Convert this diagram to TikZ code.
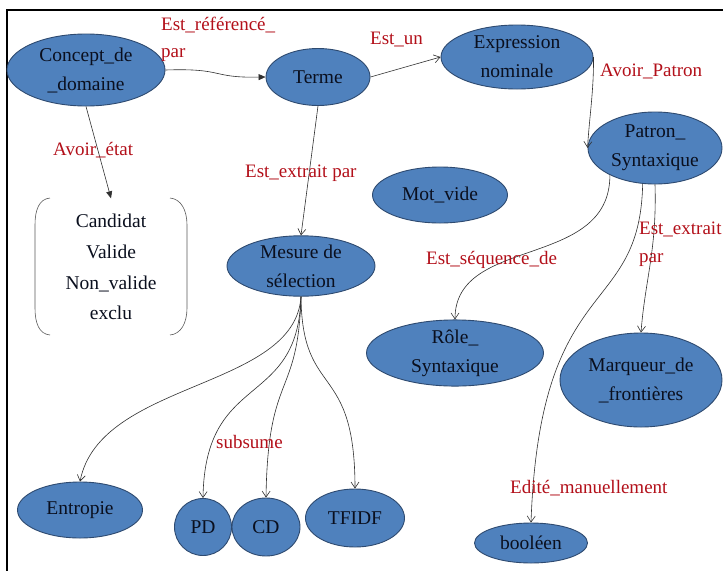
\documentclass[tikz,border=0pt]{standalone}
\usepackage{fontspec}
\setmainfont{Liberation Serif}
\usetikzlibrary{shapes.geometric,arrows.meta}
\definecolor{nodefill}{HTML}{4F81BD}
\definecolor{nodeborder}{HTML}{2E4A70}
\definecolor{relred}{HTML}{B3101A}
\definecolor{linecol}{HTML}{303030}
\definecolor{nodetext}{HTML}{0A0F1E}
\newcommand\dfont{\rmfamily\fontsize{19.5}{29}\selectfont}
\tikzset{
  ent/.style={ellipse, draw=nodeborder, fill=nodefill, line width=0.9pt, inner sep=0pt, align=center, font=\dfont, text=nodetext},
  rel/.style={text=relred, inner sep=0pt, anchor=west, font=\rmfamily\fontsize{19}{29}\selectfont},
  link/.style={draw=linecol, line width=0.6pt, -{Straight Barb[length=6pt,width=8pt]}},
  linkf/.style={draw=linecol, line width=0.6pt, -{Triangle[length=7pt,width=6pt]}},
  bracket/.style={draw=linecol!80, line width=0.6pt},
}
\begin{document}
\begin{tikzpicture}[x=1pt,y=-1pt]
\useasboundingbox (0,0) rectangle (723,571);
\fill[white] (0,0) rectangle (723,571);
% frame
\draw[line width=2pt, black] (723,10) -- (7,10) -- (7,571);

% entities
\node[ent, minimum width=158pt, minimum height=72pt] (concept) at (86,70) {Concept\_de\\\_domaine};
\node[ent, minimum width=104pt, minimum height=57pt] (terme) at (318,77) {Terme};
\node[ent, minimum width=152pt, minimum height=64pt] (expr) at (517,57) {Expression\\nominale};
\node[ent, minimum width=134pt, minimum height=72pt] (patron) at (655,148) {Patron\_\\Syntaxique};
\node[ent, minimum width=135pt, minimum height=56pt] (motvide) at (440,195) {Mot\_vide};
\node[ent, minimum width=148pt, minimum height=58pt] (mesure) at (301,266) {Mesure de\\sélection};
\node[ent, minimum width=177pt, minimum height=57pt] (role) at (455,353) {Rôle\_\\Syntaxique};
\node[ent, minimum width=162pt, minimum height=94pt] (marqueur) at (641,380) {Marqueur\_de\\\_frontières};
\node[ent, minimum width=125pt, minimum height=56pt] (entropie) at (80,510) {Entropie};
\node[ent, minimum width=57pt, minimum height=57pt] (pd) at (203,527) {PD};
\node[ent, minimum width=68pt, minimum height=58pt] (cd) at (266,527) {CD};
\node[ent, minimum width=99pt, minimum height=58pt] (tfidf) at (355,518) {TFIDF};
\node[ent, minimum width=113pt, minimum height=40pt] (booleen) at (531,543) {booléen};

% state box
\node[inner sep=0pt, minimum width=152pt, minimum height=137pt, align=center, text=nodetext, font=\rmfamily\fontsize{19.5}{30.7}\selectfont] (etat) at (111,267) {Candidat\\Valide\\Non\_valide\\exclu};
\draw[bracket] (50,198) .. controls (39,199) and (35,210) .. (35,225) -- (35,308) .. controls (35,323) and (39,334) .. (50,335);
\draw[bracket] (170,198) .. controls (181,199) and (187,210) .. (187,225) -- (187,308) .. controls (187,323) and (181,334) .. (170,335);

% connectors
\draw[linkf] (concept.east) .. controls (225,68) and (210,78) .. (terme.west);
\draw[link] (terme.east) -- (expr.west);
\draw[link] (expr.east) .. controls (594,90) and (589,120) .. (patron.west);
\draw[linkf] (concept.south) -- (etat.north);
\draw[link] (terme.south) -- (mesure.north);
\draw[link] (patron.211) .. controls (610,270) and (455,235) .. (role.north);
\draw[link] (patron.251) .. controls (640,320) and (540,270) .. (booleen.north);
\draw[link] (patron.south) .. controls (657,250) and (645,280) .. (marqueur.north);
\draw[link] (mesure.south) .. controls (295,390) and (100,380) .. (entropie.north);
\draw[link] (mesure.south) .. controls (298,410) and (205,370) .. (pd.north);
\draw[link] (mesure.south) .. controls (298,400) and (268,370) .. (cd.north);
\draw[link] (mesure.south) .. controls (302,400) and (355,360) .. (tfidf.north);

% relation labels
\node[rel] (l1) at (161,25) {Est\_référencé\_};
\node[rel] (l1b) at (161,55) {par};
\node[rel] (l2) at (370,40) {Est\_un};
\node[rel] (l3) at (600,71) {Avoir\_Patron};
\node[rel] (l4) at (53,150) {Avoir\_état};
\node[rel] (l5) at (245,173) {Est\_extrait par};
\node[rel] (l6) at (426,260) {Est\_séquence\_de};
\node[rel] (l7) at (639,229) {Est\_extrait};
\node[rel] (l7b) at (639,260) {par};
\node[rel] (l8) at (216,442) {subsume};
\node[rel] (l9) at (510,488) {Edité\_manuellement};
\end{tikzpicture}
\end{document}
